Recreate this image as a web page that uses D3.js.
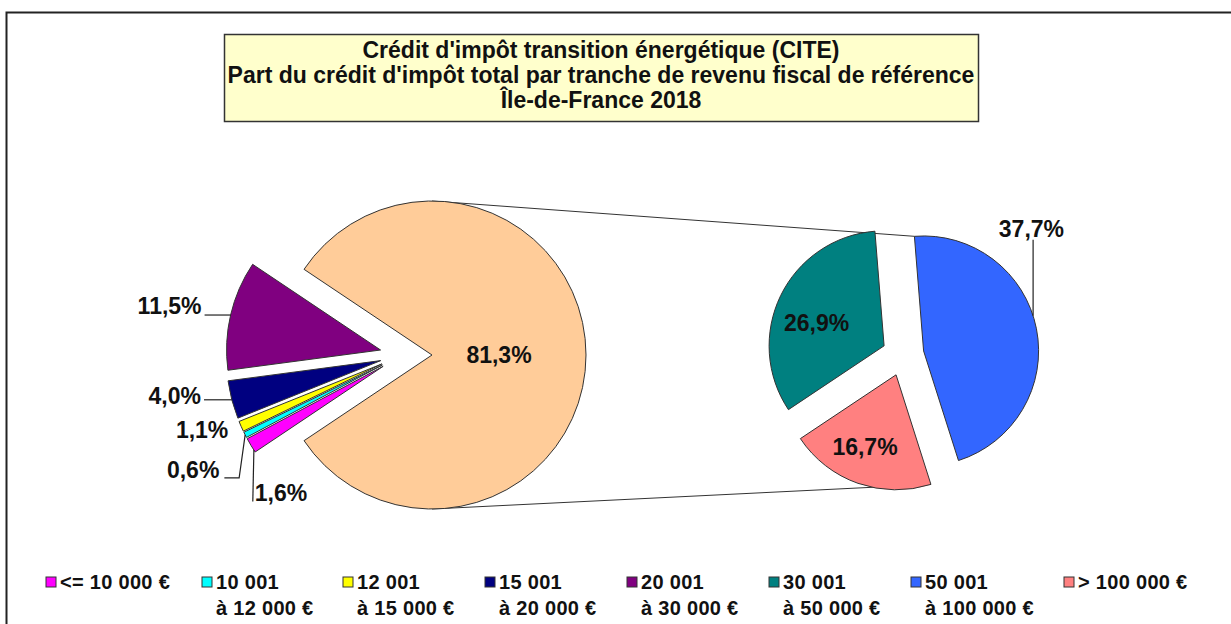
<!DOCTYPE html>
<html>
<head>
<meta charset="utf-8">
<script src="https://cdn.jsdelivr.net/npm/d3@7"></script>
<style>
  body { margin: 0; background: #fff; }
  text { font-family: "Liberation Sans", Arial, sans-serif; font-weight: bold; fill: #111; }
</style>
</head>
<body>
<div id="chart"></div>
<script>
  // ---- data ----
  var titleLines = [
    "Crédit d'impôt transition énergétique (CITE)",
    "Part du crédit d'impôt total par tranche de revenu fiscal de référence",
    "Île-de-France 2018"
  ];
  var bracketTop    = ["<= 10 000 €", "10 001", "12 001", "15 001", "20 001", "30 001", "50 001", "> 100 000 €"];
  var bracketBottom = ["", "à 12 000 €", "à 15 000 €", "à 20 000 €", "à 30 000 €", "à 50 000 €", "à 100 000 €", ""];
  var shares = [1.6, 0.6, 1.1, 4.0, 11.5, 26.9, 37.7, 16.7];   // % of total credit
  var splitAt = 5;   // the first 5 brackets stay in the main pie, the rest go to the small pie

  // ---- styles ----
  var colors = ["#FF00FF", "#00FFFF", "#FFFF00", "#000080", "#800080", "#008080", "#3366FF", "#FF8080"];
  var otherColor = "#FFCC99";

  var W = 1231, H = 624;
  var svg = d3.select("#chart").append("svg").attr("width", W).attr("height", H);

  var fmt = function (v) { return d3.format(".1f")(v).replace(".", ",") + "%"; };
  var rad = function (deg) { return deg * Math.PI / 180; };

  // frame
  svg.append("path").attr("d", "M6.5," + H + "V12.5H" + W)
    .attr("fill", "none").attr("stroke", "#222").attr("stroke-width", 2);

  // title box
  svg.append("rect").attr("x", 224.5).attr("y", 34.5).attr("width", 754).attr("height", 87)
    .attr("fill", "#FFFFCC").attr("stroke", "#333").attr("stroke-width", 1.5);
  svg.selectAll(".title").data(titleLines).enter().append("text")
    .attr("class", "title")
    .attr("x", 601).attr("y", function (d, i) { return 58 + i * 25; })
    .attr("text-anchor", "middle").style("font-size", "23px")
    .text(function (d) { return d; });

  // ---- main pie ----
  var main = { cx: 402, cy: 355, r: 154, explodeOther: 30, explode: 22 };
  var small = { cx: 903, cy: 355, r: 115, explode: 21, start: rad(-123.7) };

  var otherTotal = d3.sum(shares.slice(splitAt));
  var total = d3.sum(shares);
  var mainData = [{ k: -1, v: otherTotal }].concat(
    shares.slice(0, splitAt).map(function (v, i) { return { k: i, v: v }; }));
  var a0 = Math.PI / 2 - Math.PI * otherTotal / total;
  var mainArcs = d3.pie().sort(null).value(function (d) { return d.v; })
    .startAngle(a0).endAngle(a0 + 2 * Math.PI)(mainData);

  var smallData = shares.slice(splitAt).map(function (v, i) { return { k: i + splitAt, v: v }; });
  var smallArcs = d3.pie().sort(null).value(function (d) { return d.v; })
    .startAngle(small.start).endAngle(small.start + 2 * Math.PI)(smallData);

  function polar(c, r, a) { return [c[0] + r * Math.sin(a), c[1] - r * Math.cos(a)]; }
  function mid(a) { return (a.startAngle + a.endAngle) / 2; }

  mainArcs.forEach(function (a) {
    var d = a.data.k < 0 ? main.explodeOther : main.explode;
    a.c = polar([main.cx, main.cy], d, mid(a));
    a.r = main.r;
  });
  smallArcs.forEach(function (a) {
    a.c = polar([small.cx, small.cy], small.explode, mid(a));
    a.r = small.r;
  });
  var allArcs = mainArcs.concat(smallArcs);

  var arcGen = d3.arc().innerRadius(0);

  // connector lines between the big slice and the small pie
  var big = mainArcs[0];
  var topEnd = smallArcs.find(function (a) { return a.data.k === 6; });
  var botEnd = smallArcs.find(function (a) { return a.data.k === 7; });
  var links = [
    [polar(big.c, big.r, 0), polar(topEnd.c, topEnd.r, topEnd.startAngle)],
    [polar(big.c, big.r, Math.PI), polar(botEnd.c, botEnd.r, botEnd.startAngle)]
  ];
  svg.selectAll(".link").data(links).enter().append("line")
    .attr("x1", function (d) { return d[0][0]; }).attr("y1", function (d) { return d[0][1]; })
    .attr("x2", function (d) { return d[1][0]; }).attr("y2", function (d) { return d[1][1]; })
    .attr("stroke", "#333").attr("stroke-width", 1);

  svg.selectAll(".slice").data(allArcs).enter().append("path")
    .attr("class", "slice")
    .attr("transform", function (a) { return "translate(" + a.c[0] + "," + a.c[1] + ")"; })
    .attr("d", function (a) { return arcGen.outerRadius(a.r)(a); })
    .attr("fill", function (a) { return a.data.k < 0 ? otherColor : colors[a.data.k]; })
    .attr("stroke", "#333").attr("stroke-width", 1).attr("stroke-linejoin", "round");

  // ---- data labels (offset from the outer midpoint of each slice) ----
  var labelLayout = {
    "-1": { dx: -87, dy: 0 },
    "0": { dx: 30, dy: 47, leader: "left", at: 0.15 },
    "1": { dx: -52, dy: 35, leader: "elbow", at: 0.5 },
    "2": { dx: -39, dy: 3 },
    "3": { dx: -57, dy: -4, leader: "flat" },
    "4": { dx: -61, dy: -9, leader: "flat" },
    "5": { dx: 36, dy: 27 },
    "6": { dx: -5, dy: -100, leader: "down", at: 0.46 },
    "7": { dx: 7, dy: -37 }
  };

  allArcs.forEach(function (a) {
    var L = labelLayout[a.data.k];
    var anchor = polar(a.c, a.r, mid(a));
    var lx = anchor[0] + L.dx, ly = anchor[1] + L.dy;
    var t = svg.append("text").attr("x", lx).attr("y", ly).attr("dy", "0.36em")
      .attr("text-anchor", "middle").style("font-size", "23px")
      .text(fmt(a.data.v));
    var hw = t.node().getComputedTextLength() / 2;
    var pts = null;
    var end = L.at != null ? polar(a.c, a.r, a.startAngle + L.at * (a.endAngle - a.startAngle)) : anchor;
    if (L.leader === "flat") pts = [[lx + hw + 3, end[1]], end];
    if (L.leader === "elbow") pts = [[lx + hw + 5, ly + 8], [end[0] - 6, ly + 8], end];
    if (L.leader === "left") pts = [[lx - hw - 2, ly + 9], end];
    if (L.leader === "down") pts = [[end[0], ly + 11], end];
    if (pts) {
      svg.append("path").attr("d", d3.line()(pts))
        .attr("fill", "none").attr("stroke", "#222").attr("stroke-width", 1.2);
    }
  });

  // ---- legend ----
  var legendX = [46, 202, 343, 485, 627, 769, 911, 1064];
  var leg = svg.selectAll(".leg").data(bracketTop).enter().append("g")
    .attr("class", "leg")
    .attr("transform", function (d, i) { return "translate(" + legendX[i] + ",577)"; });
  leg.append("rect").attr("width", 10).attr("height", 10)
    .attr("fill", function (d, i) { return colors[i]; })
    .attr("stroke", "#333").attr("stroke-width", 1);
  leg.append("text").attr("x", 14).attr("y", 12).style("font-size", "20px").style("letter-spacing", "0.3px")
    .text(function (d) { return d; });
  leg.append("text").attr("x", 14).attr("y", 38).style("font-size", "20px").style("letter-spacing", "0.3px")
    .text(function (d, i) { return bracketBottom[i]; });
</script>
</body>
</html>
